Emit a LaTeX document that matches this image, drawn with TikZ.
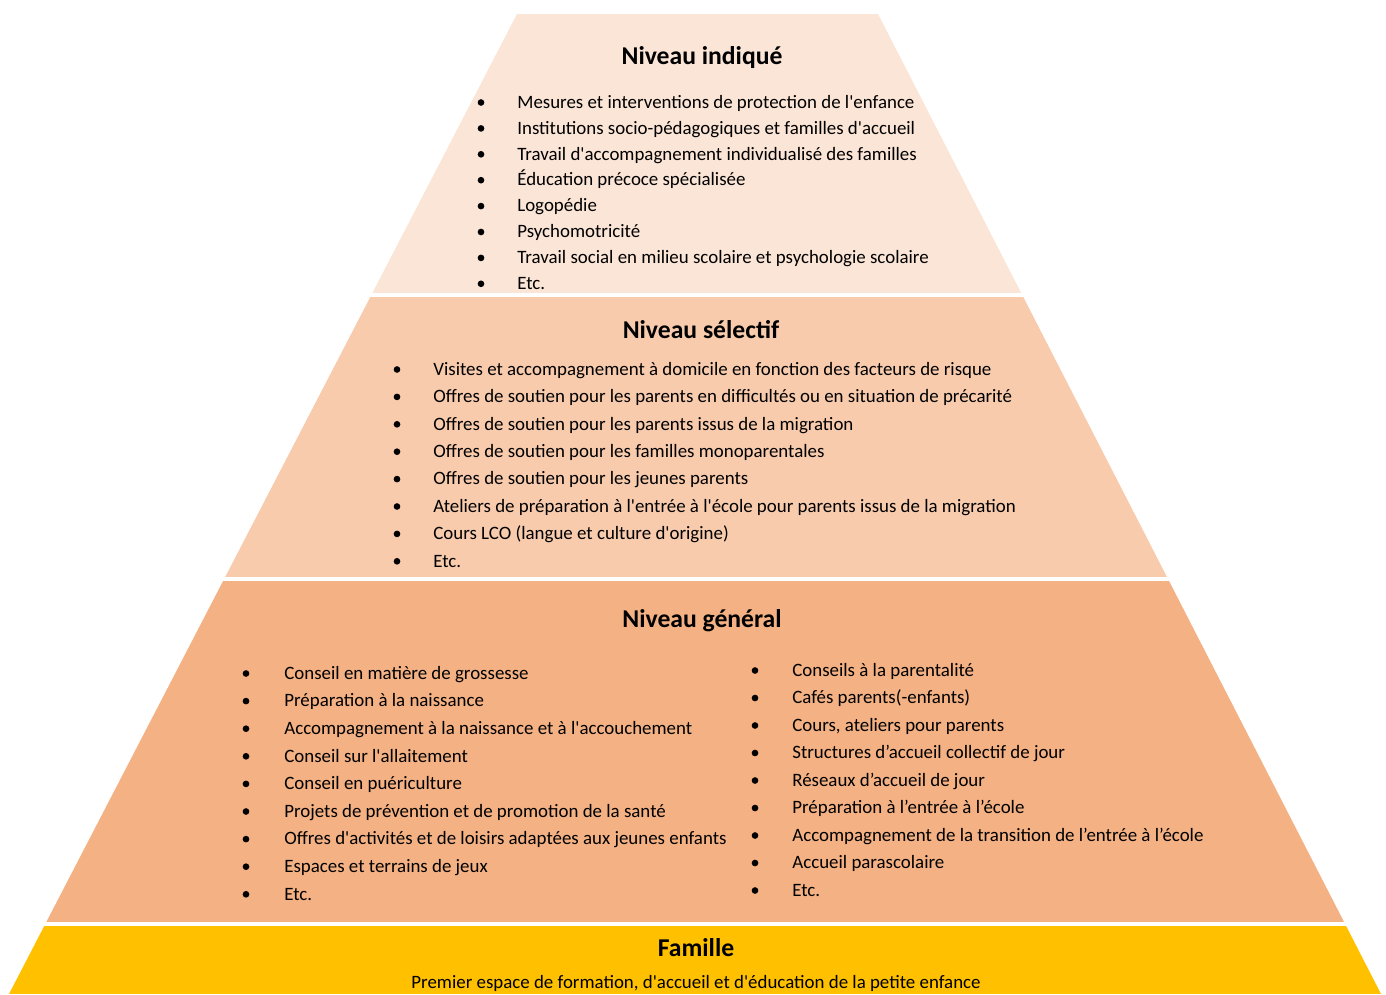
\documentclass[tikz,border=0pt]{standalone}
\usepackage{fontspec}
\setmainfont{Carlito}[Ligatures=TeXOff]
\usetikzlibrary{positioning}

\definecolor{indique}{HTML}{FBE5D6}
\definecolor{selectif}{HTML}{F8CBAD}
\definecolor{general}{HTML}{F4B183}
\definecolor{famille}{HTML}{FFC000}

\tikzset{
  titre/.style={anchor=base, inner sep=0pt, font=\fontsize{14.6}{16}\selectfont\bfseries},
  item/.style={anchor=base west, inner sep=0pt, font=\fontsize{10.75}{12}\selectfont},
  puce/.style={fill=black},
}

\begin{document}
\begin{tikzpicture}[x=0.02cm, y=-0.02cm]
\useasboundingbox (0,0) rectangle (1386,994);

% Draw the four tiers of the pyramid
\begin{scope}
  \clip (517,14) -- (878,14) -- (1381,994) -- (9,994) -- cycle;
  \fill[indique]  (0,14)  rectangle (1386,293);
  \fill[selectif] (0,297) rectangle (1386,577);
  \fill[general]  (0,581) rectangle (1386,922);
  \fill[famille]  (0,926) rectangle (1386,994);
\end{scope}

% Niveau indique
\node[titre] (t-indique) at (702,64) {Niveau indiqué};
\foreach \t [count=\i] in {%
  Mesures et interventions de protection de l'enfance,
  Institutions socio-pédagogiques et familles d'accueil,
  Travail d'accompagnement individualisé des familles,
  Éducation précoce spécialisée,
  Logopédie,
  Psychomotricité,
  Travail social en milieu scolaire et psychologie scolaire,
  Etc.}{
  \fill[puce] (481,{76.6+25.9*\i}) circle (1.9pt);
  \node[item] (ind-\i) at (517,{82.3+25.9*\i}) {\t};
}

% Niveau selectif
\node[titre] (t-selectif) at (701,338) {Niveau sélectif};
\foreach \t [count=\i] in {%
  Visites et accompagnement à domicile en fonction des facteurs de risque,
  Offres de soutien pour les parents en difficultés ou en situation de précarité,
  Offres de soutien pour les parents issus de la migration,
  Offres de soutien pour les familles monoparentales,
  Offres de soutien pour les jeunes parents,
  Ateliers de préparation à l'entrée à l'école pour parents issus de la migration,
  Cours LCO (langue et culture d'origine),
  Etc.}{
  \fill[puce] (397,{342.1+27.4*\i}) circle (1.9pt);
  \node[item] (sel-\i) at (433,{347.8+27.4*\i}) {\t};
}

% Niveau general, two columns
\node[titre] (t-general) at (702,627) {Niveau général};
\foreach \t [count=\i] in {%
  Conseil en matière de grossesse,
  Préparation à la naissance,
  Accompagnement à la naissance et à l'accouchement,
  Conseil sur l'allaitement,
  Conseil en puériculture,
  Projets de prévention et de promotion de la santé,
  Offres d'activités et de loisirs adaptées aux jeunes enfants,
  Espaces et terrains de jeux,
  Etc.}{
  \fill[puce] (246,{645.9+27.6*\i}) circle (1.9pt);
  \node[item] (gen-g\i) at (284,{651.6+27.6*\i}) {\t};
}
\foreach \t [count=\i] in {%
  Conseils à la parentalité,
  Cafés parents(-enfants),
  {Cours, ateliers pour parents},
  Structures d’accueil collectif de jour,
  Réseaux d’accueil de jour,
  Préparation à l’entrée à l’école,
  Accompagnement de la transition de l’entrée à l’école,
  Accueil parascolaire,
  Etc.}{
  \fill[puce] (755,{643+27.5*\i}) circle (1.9pt);
  \node[item] (gen-d\i) at (792,{648.7+27.5*\i}) {\t};
}

% Famille
\node[titre] (t-famille) at (696,956) {Famille};
\node[item, anchor=base] (famille-txt) at (696,988)
  {Premier espace de formation, d'accueil et d'éducation de la petite enfance};

\end{tikzpicture}
\end{document}
